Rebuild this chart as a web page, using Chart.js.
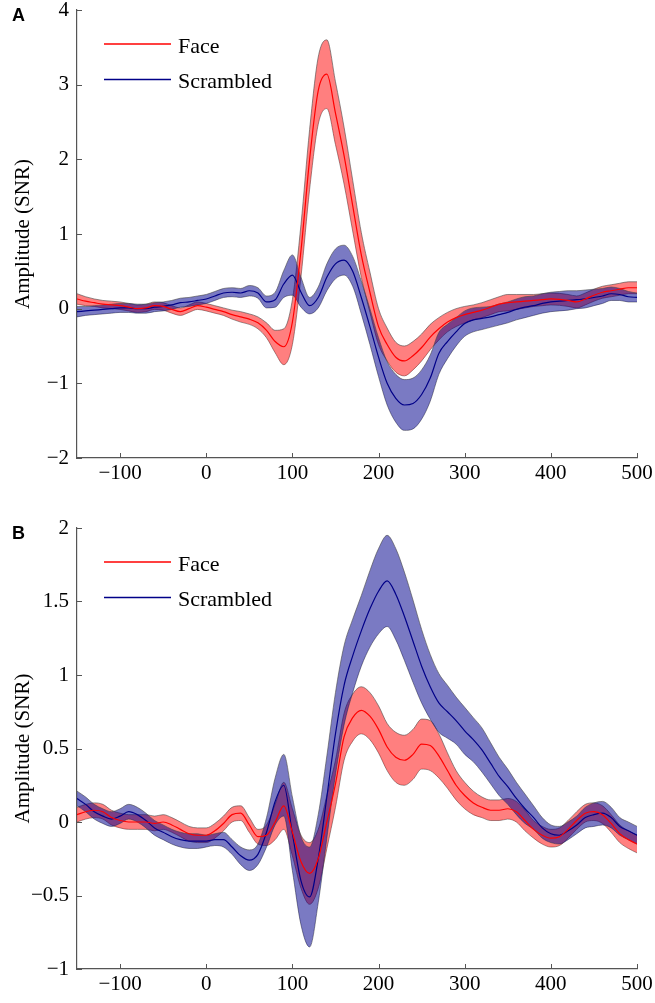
<!DOCTYPE html>
<html lang="en">
<head>
  <meta charset="UTF-8">
  <title>Face vs Scrambled</title>
  <script src="https://cdn.jsdelivr.net/npm/chart.js@4.4.1/dist/chart.umd.min.js"></script>
  <style>
    body { margin: 0; background: #fff; }
    canvas { display: block; }
  </style>
</head>
<body>
  <canvas id="chartA" width="655" height="492"></canvas>
  <canvas id="chartB" width="655" height="511"></canvas>

  <script>
    // time axis (ms), shared by every series
    const time = [-150,-140,-130,-120,-110,-100,-90,-80,-70,-60,-50,-40,-30,-20,-10,
      0,10,20,30,40,50,60,70,80,90,100,110,120,130,140,150,160,170,180,190,200,
      210,220,230,240,250,260,270,280,290,300,310,320,330,340,350,360,370,380,390,400,
      410,420,430,440,450,460,470,480,490,500];

    // panel A
    const faceA = [0.13,0.10,0.08,0.06,0.05,0.04,0.02,0.00,0.01,0.04,0.03,-0.01,-0.04,0.00,0.04,
      0.02,-0.01,-0.04,-0.08,-0.11,-0.14,-0.19,-0.29,-0.44,-0.51,-0.18,0.78,2.00,2.92,3.14,2.62,2.05,1.38,0.72,0.22,-0.24,
      -0.48,-0.65,-0.70,-0.63,-0.52,-0.38,-0.27,-0.18,-0.12,-0.08,-0.05,-0.02,0.02,0.06,0.08,0.09,0.10,0.11,0.12,0.13,
      0.125,0.11,0.09,0.13,0.18,0.22,0.24,0.26,0.28,0.28];
    const faceAerr = [0.07,0.06,0.05,0.05,0.05,0.05,0.05,0.05,0.05,0.05,0.05,0.05,0.05,0.05,0.05,
      0.05,0.05,0.05,0.06,0.07,0.07,0.08,0.10,0.15,0.24,0.30,0.35,0.40,0.45,0.46,0.42,0.38,0.34,0.30,0.27,0.24,
      0.22,0.20,0.20,0.19,0.18,0.17,0.15,0.13,0.12,0.11,0.10,0.10,0.10,0.10,0.11,0.10,0.09,0.08,0.08,0.08,
      0.08,0.08,0.08,0.08,0.08,0.08,0.08,0.08,0.08,0.08];
    const scrA = [-0.04,-0.03,-0.02,-0.01,0.00,0.01,0.01,0.00,0.00,0.02,0.03,0.05,0.08,0.09,0.11,
      0.13,0.17,0.21,0.22,0.21,0.24,0.21,0.09,0.12,0.33,0.45,0.22,0.04,0.15,0.42,0.60,0.65,0.50,0.15,-0.24,-0.65,
      -1.00,-1.20,-1.29,-1.27,-1.15,-0.93,-0.60,-0.44,-0.31,-0.20,-0.15,-0.13,-0.11,-0.08,-0.05,-0.01,0.02,0.04,0.07,0.09,
      0.10,0.11,0.12,0.13,0.15,0.17,0.20,0.19,0.16,0.15];
    const scrAerr = [0.07,0.06,0.06,0.06,0.06,0.06,0.06,0.06,0.06,0.06,0.06,0.06,0.06,0.06,0.06,
      0.06,0.06,0.06,0.06,0.06,0.07,0.07,0.08,0.10,0.18,0.27,0.20,0.11,0.14,0.18,0.20,0.20,0.20,0.22,0.24,0.26,
      0.29,0.32,0.34,0.34,0.33,0.31,0.28,0.23,0.19,0.17,0.16,0.15,0.14,0.14,0.14,0.14,0.14,0.13,0.13,0.13,
      0.13,0.13,0.12,0.12,0.11,0.10,0.09,0.08,0.07,0.06];

    // panel B
    const faceB = [0.05,0.07,0.08,0.07,0.03,0.01,0.00,0.00,0.00,-0.01,0.00,-0.02,-0.05,-0.08,-0.09,
      -0.09,-0.06,-0.01,0.05,0.06,-0.02,-0.10,-0.09,0.00,0.11,-0.07,-0.27,-0.35,-0.25,0.00,0.26,0.58,0.71,0.76,0.72,0.63,
      0.51,0.44,0.42,0.46,0.53,0.52,0.45,0.35,0.25,0.18,0.13,0.10,0.08,0.08,0.09,0.07,0.01,-0.05,-0.09,-0.11,
      -0.10,-0.05,0.01,0.06,0.07,0.05,-0.01,-0.08,-0.12,-0.15];
    const faceBerr = [0.05,0.05,0.05,0.05,0.05,0.05,0.05,0.05,0.05,0.05,0.05,0.05,0.05,0.05,0.05,
      0.05,0.05,0.05,0.05,0.05,0.05,0.05,0.07,0.12,0.16,0.16,0.18,0.21,0.20,0.18,0.16,0.16,0.16,0.16,0.16,0.16,
      0.16,0.17,0.17,0.17,0.17,0.17,0.15,0.12,0.10,0.09,0.08,0.07,0.07,0.07,0.07,0.07,0.07,0.06,0.06,0.06,
      0.06,0.06,0.06,0.06,0.06,0.06,0.06,0.06,0.06,0.06];
    const scrB = [0.16,0.12,0.07,0.04,0.02,0.04,0.07,0.05,0.01,-0.04,-0.07,-0.10,-0.12,-0.13,-0.13,
      -0.13,-0.12,-0.12,-0.17,-0.23,-0.26,-0.22,-0.07,0.14,0.25,-0.08,-0.40,-0.51,-0.25,0.17,0.60,0.93,1.13,1.30,1.45,1.57,
      1.64,1.55,1.40,1.23,1.06,0.92,0.81,0.75,0.69,0.62,0.56,0.49,0.40,0.31,0.24,0.16,0.09,0.03,-0.04,-0.08,
      -0.09,-0.06,-0.02,0.03,0.05,0.06,0.03,-0.03,-0.06,-0.09];
    const scrBerr = [0.05,0.05,0.05,0.05,0.05,0.05,0.05,0.05,0.05,0.05,0.05,0.05,0.05,0.05,0.05,
      0.04,0.04,0.05,0.05,0.06,0.07,0.07,0.10,0.16,0.21,0.25,0.30,0.34,0.30,0.28,0.28,0.27,0.25,0.24,0.26,0.29,
      0.31,0.31,0.30,0.28,0.25,0.22,0.20,0.18,0.16,0.16,0.15,0.15,0.14,0.13,0.12,0.11,0.10,0.08,0.07,0.06,
      0.06,0.06,0.06,0.07,0.08,0.08,0.07,0.06,0.06,0.06];

    // tick labels
    const xTicks = [-100, 0, 100, 200, 300, 400, 500];
    const yTicksA = [-2, -1, 0, 1, 2, 3, 4];
    const yTicksB = [-1, -0.5, 0, 0.5, 1, 1.5, 2];
    const seriesNames = ['Face', 'Scrambled'];

    const axisColor = '#555';
    const faceLine = '#ff0000';
    const scrLine = '#000088';
    const faceFill = 'rgba(255,0,0,0.5)';
    const scrFill = 'rgba(0,0,140,0.52)';
    const edgeColor = 'rgba(70,70,70,0.75)';

    Chart.defaults.font.family = '"Liberation Serif", "Times New Roman", serif';
    Chart.defaults.color = '#000';

    const pts = vals => vals.map((v, i) => ({ x: time[i], y: v }));
    const fmt = v => (v < 0 ? '\u2212' + Math.abs(v) : String(v));

    // draws ticks pointing into the plot, the in-plot legend and the panel letter
    const decorations = {
      id: 'decorations',
      afterDraw(chart, args, opts) {
        const { ctx, chartArea, scales: { x, y } } = chart;
        ctx.save();
        ctx.strokeStyle = axisColor;
        ctx.lineWidth = 1;
        ctx.beginPath();
        x.ticks.forEach(t => {
          const px = Math.round(x.getPixelForValue(t.value)) + 0.5;
          ctx.moveTo(px, chartArea.bottom);
          ctx.lineTo(px, chartArea.bottom - 5);
        });
        y.ticks.forEach(t => {
          const py = Math.round(y.getPixelForValue(t.value)) + 0.5;
          ctx.moveTo(chartArea.left, py);
          ctx.lineTo(chartArea.left + 5, py);
        });
        ctx.stroke();

        // legend
        const rows = [[seriesNames[0], faceLine, 34], [seriesNames[1], scrLine, 69.5]];
        ctx.font = '22px "Liberation Serif", serif';
        ctx.textBaseline = 'alphabetic';
        rows.forEach(([label, col, dy]) => {
          ctx.strokeStyle = col;
          ctx.lineWidth = 1.3;
          ctx.beginPath();
          ctx.moveTo(104, chartArea.top + dy);
          ctx.lineTo(171, chartArea.top + dy);
          ctx.stroke();
          ctx.fillStyle = '#000';
          ctx.fillText(label, 178, chartArea.top + dy + 8.5);
        });

        // panel letter
        ctx.font = 'bold 18px "Liberation Sans", Arial, sans-serif';
        ctx.fillText(opts.letter, 12, chartArea.top + 11);
        ctx.restore();
      }
    };

    function makeChart(id, letter, face, faceErr, scr, scrErr, yMin, yMax, yTicks, topPad) {
      const band = (vals, err, sign) => pts(vals.map((v, i) => +(v + sign * err[i]).toFixed(3)));
      const lineBase = { pointRadius: 0, cubicInterpolationMode: 'monotone' };
      return new Chart(document.getElementById(id), {
        type: 'line',
        data: {
          datasets: [
            { ...lineBase, label: seriesNames[0], data: pts(face), borderColor: faceLine, borderWidth: 1.2, fill: false, order: 0 },
            { ...lineBase, label: seriesNames[1], data: pts(scr), borderColor: scrLine, borderWidth: 1.2, fill: false, order: 0 },
            { ...lineBase, label: 'face upper', data: band(face, faceErr, 1), borderColor: edgeColor, borderWidth: 0.8, backgroundColor: faceFill, fill: '+1', order: 2 },
            { ...lineBase, label: 'face lower', data: band(face, faceErr, -1), borderColor: edgeColor, borderWidth: 0.8, fill: false, order: 2 },
            { ...lineBase, label: 'scr upper', data: band(scr, scrErr, 1), borderColor: edgeColor, borderWidth: 0.8, backgroundColor: scrFill, fill: '+1', order: 1 },
            { ...lineBase, label: 'scr lower', data: band(scr, scrErr, -1), borderColor: edgeColor, borderWidth: 0.8, fill: false, order: 1 }
          ]
        },
        options: {
          responsive: false,
          animation: false,
          layout: { padding: { top: topPad, right: 18, left: 0, bottom: 0 } },
          plugins: {
            legend: { display: false },
            tooltip: { enabled: false },
            decorations: { letter: letter }
          },
          scales: {
            x: {
              type: 'linear',
              min: -150, max: 500,
              grid: { display: false, drawTicks: false },
              border: { display: true, color: axisColor, width: 1.2 },
              ticks: { font: { size: 21 }, padding: 3, maxRotation: 0, callback: fmt },
              afterBuildTicks: s => { s.ticks = xTicks.map(v => ({ value: v })); },
              afterFit: s => { s.height = 34; s.paddingLeft = 0; s.paddingRight = 0; }
            },
            y: {
              min: yMin, max: yMax,
              grid: { display: false, drawTicks: false },
              border: { display: true, color: axisColor, width: 1.2 },
              ticks: { font: { size: 21 }, padding: 8, callback: fmt },
              title: { display: true, text: 'Amplitude (SNR)', font: { size: 21 }, padding: { top: 11, bottom: 0 } },
              afterBuildTicks: s => { s.ticks = yTicks.map(v => ({ value: v })); },
              afterFit: s => { s.width = 77; s.paddingTop = 0; s.paddingBottom = 0; }
            }
          }
        },
        plugins: [decorations]
      });
    }

    makeChart('chartA', 'A', faceA, faceAerr, scrA, scrAerr, -2, 4, yTicksA, 10);
    makeChart('chartB', 'B', faceB, faceBerr, scrB, scrBerr, -1, 2, yTicksB, 36);
  </script>
</body>
</html>
